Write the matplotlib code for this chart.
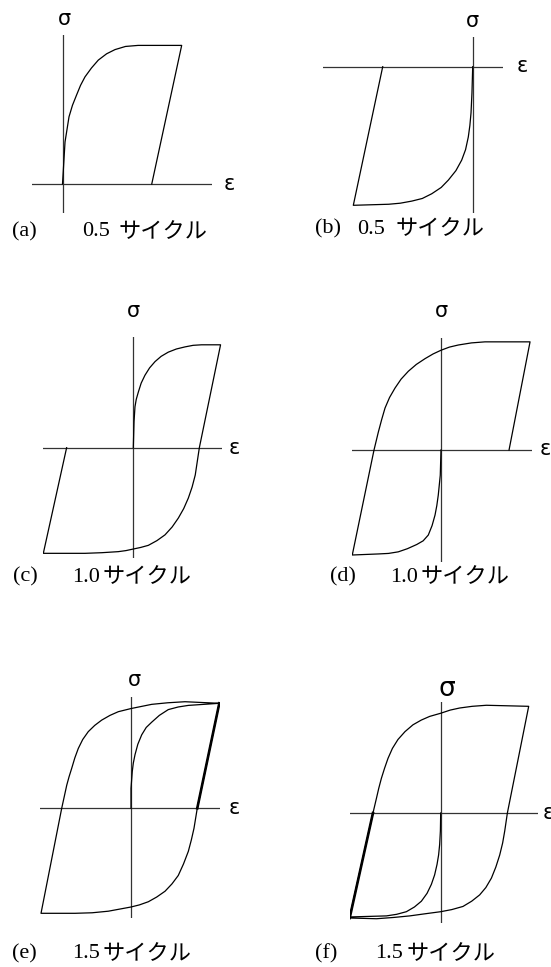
import matplotlib
matplotlib.use("Agg")
import matplotlib.pyplot as plt

W, H = 551, 967
S = 105.0  # pixels per unit of strain / stress

# ---- data (normalised strain eps, stress sig) ----
eps_a = [0, 0.024, 0.062, 0.095, 0.135, 0.172, 0.214, 0.276, 0.341, 0.42, 0.50, 0.60, 0.72,
         1.135, 0.85]
sig_a = [0, 0.40, 0.64, 0.75, 0.85, 0.94, 1.02, 1.105, 1.18, 1.24, 1.28, 1.31, 1.32,
         1.32, 0]

eps_b = [0, -0.007, -0.016, -0.027, -0.042, -0.068, -0.105, -0.16, -0.232, -0.30, -0.39,
         -0.48, -0.58, -0.69, -0.80, -1.137, -0.857]
sig_b = [0, -0.25, -0.44, -0.56, -0.67, -0.79, -0.89, -0.99, -1.08, -1.15, -1.21,
         -1.255, -1.28, -1.30, -1.31, -1.32, 0]

eps_c = [0, 0.007, 0.016, 0.028, 0.048, 0.075, 0.111, 0.155, 0.207, 0.265, 0.333, 0.41,
         0.492, 0.57, 0.65, 0.831,
         0.629, 0.59, 0.56, 0.524, 0.48, 0.429, 0.37, 0.302, 0.225, 0.143, 0.07, 0,
         -0.07, -0.143, -0.30, -0.46, -0.857,
         -0.635]
sig_c = [0, 0.25, 0.39, 0.46, 0.53, 0.615, 0.69, 0.76, 0.82, 0.87, 0.91, 0.94,
         0.96, 0.975, 0.98, 0.98,
         0, -0.26, -0.375, -0.48, -0.58, -0.67, -0.755, -0.83, -0.885, -0.93, -0.95, -0.965,
         -0.98, -0.99, -1.0, -1.006, -1.006,
         0]

eps_d = [0, -0.007, -0.026, -0.04, -0.057, -0.085, -0.121, -0.17, -0.231, -0.32, -0.407,
         -0.50, -0.597, -0.845,
         -0.638, -0.597, -0.565, -0.533, -0.49, -0.438, -0.38, -0.311, -0.235, -0.152,
         -0.075, 0, 0.08, 0.165, 0.29, 0.419, 0.848,
         0.648]
sig_d = [0, -0.24, -0.43, -0.53, -0.62, -0.72, -0.81, -0.865, -0.90, -0.94, -0.97,
         -0.985, -0.99, -1.0,
         0, 0.17, 0.29, 0.40, 0.50, 0.59, 0.675, 0.75, 0.815, 0.87,
         0.915, 0.95, 0.98, 1.0, 1.02, 1.03, 1.03,
         0]

eps_e = [0, 0, 0.012, 0.022, 0.038, 0.065, 0.102, 0.145, 0.197, 0.27, 0.355, 0.45,
         0.546, 0.841,
         0.631, 0.60, 0.575, 0.546, 0.50, 0.45, 0.39, 0.324, 0.245, 0.165, 0.08, 0,
         -0.216, -0.37, -0.533, -0.857,
         -0.66, -0.612, -0.59, -0.565, -0.535, -0.502, -0.46, -0.407, -0.345, -0.279,
         -0.20, -0.121, 0, 0.197, 0.35, 0.514, 0.841,
         0.631]
sig_e = [0, 0.19, 0.35, 0.43, 0.51, 0.61, 0.70, 0.77, 0.82, 0.885, 0.94, 0.965,
         0.98, 1.0,
         0, -0.19, -0.30, -0.41, -0.53, -0.64, -0.72, -0.79, -0.845, -0.89, -0.92, -0.94,
         -0.98, -0.995, -1.0, -1.0,
         0, 0.22, 0.30, 0.38, 0.48, 0.57, 0.655, 0.73, 0.79, 0.84,
         0.885, 0.92, 0.95, 0.99, 1.005, 1.015, 1.0,
         0]

eps_f = [0, -0.003, -0.01, -0.02, -0.035, -0.058, -0.089, -0.13, -0.184, -0.25, -0.327,
         -0.42, -0.517, -0.867,
         -0.645, -0.612, -0.59, -0.565, -0.535, -0.502, -0.46, -0.407, -0.34, -0.264,
         -0.185, -0.105, 0, 0.09, 0.181, 0.30, 0.435, 0.838,
         0.635, 0.61, 0.59, 0.562, 0.525, 0.483, 0.43, 0.371, 0.295, 0.212, 0.105, 0,
         -0.15, -0.295, -0.45, -0.612, -0.867,
         -0.645]
sig_f = [0, -0.17, -0.30, -0.40, -0.49, -0.59, -0.68, -0.765, -0.84, -0.895, -0.94,
         -0.965, -0.98, -0.99,
         0, 0.14, 0.235, 0.33, 0.425, 0.52, 0.615, 0.70, 0.775, 0.84,
         0.885, 0.92, 0.95, 0.98, 1.0, 1.016, 1.026, 1.016,
         0, -0.17, -0.285, -0.40, -0.515, -0.62, -0.71, -0.78, -0.84, -0.89, -0.92, -0.94,
         -0.96, -0.98, -0.995, -1.007, -1.0,
         0]

letters = ["(a)", "(b)", "(c)", "(d)", "(e)", "(f)"]
cycles = ["0.5", "0.5", "1.0", "1.0", "1.5", "1.5"]
cycle_word = "サイクル"

# ---- layout (pixels) ----
# origin, horizontal-axis x-range, vertical-axis y-range
panels = [
    dict(eps=eps_a, sig=sig_a, o=(62.5, 184), hx=(32, 212), vy=(35, 213),
         sg=(64, 19, 15), ep=(229, 184), lab=(12, 82, 119, 232), thick=False),
    dict(eps=eps_b, sig=sig_b, o=(472.7, 66.7), hx=(323, 503), vy=(37, 213),
         sg=(472, 21, 15), ep=(522, 66), lab=(315, 357, 396, 229), thick=False),
    dict(eps=eps_c, sig=sig_c, o=(133.3, 447.7), hx=(43, 222), vy=(337, 558),
         sg=(133, 311, 15), ep=(234, 448), lab=(13, 72, 103, 577), thick=False),
    dict(eps=eps_d, sig=sig_d, o=(441, 450), hx=(352, 532), vy=(338, 562),
         sg=(441, 311, 15), ep=(545, 449), lab=(330, 390, 421, 577), thick=False),
    dict(eps=eps_e, sig=sig_e, o=(131, 808.3), hx=(40, 220), vy=(697, 918),
         sg=(134, 680, 15), ep=(234, 808), lab=(12, 72, 103, 954), thick=True),
    dict(eps=eps_f, sig=sig_f, o=(440.7, 813), hx=(350, 538), vy=(702, 923),
         sg=(447, 689, 19), ep=(548, 813), lab=(315, 375, 407, 954), thick=True),
]

fig = plt.figure(figsize=(W / 100, H / 100), dpi=100)
fig.patch.set_facecolor("white")

serif = ["Liberation Serif", "DejaVu Serif"]
cjk = ["Noto Sans CJK JP", "DejaVu Sans"]

for i, p in enumerate(panels):
    ox, oy = p["o"]
    x0, x1 = p["hx"]
    y0, y1 = p["vy"]
    ax = fig.add_axes([x0 / W, 1 - y1 / H, (x1 - x0) / W, (y1 - y0) / H])
    ax.set_xlim((x0 - ox) / S, (x1 - ox) / S)
    ax.set_ylim((oy - y1) / S, (oy - y0) / S)
    ax.axis("off")
    ax.axhline(0, color="#333333", lw=0.9)
    ax.axvline(0, color="#333333", lw=0.9)
    ax.plot(p["eps"], p["sig"], color="black", lw=0.9, solid_joinstyle="round")
    if p["thick"]:
        # last unloading branch retraces the previous one
        ax.plot(p["eps"][-2:], p["sig"][-2:], color="black", lw=1.9)

    sx, sy, sfs = p["sg"]
    fig.text(sx / W, 1 - sy / H, "σ", fontsize=sfs, family="DejaVu Sans",
             ha="center", va="center")
    ex, ey = p["ep"]
    fig.text(ex / W, 1 - ey / H, "ε", fontsize=15, family="DejaVu Sans",
             ha="center", va="center")

    lx, nx, kx, ly = p["lab"]
    fig.text(lx / W, 1 - ly / H, letters[i], fontsize=16, family=serif,
             ha="left", va="center")
    fig.text(nx / W, 1 - ly / H, cycles[i], fontsize=16, family=serif,
             ha="left", va="center")
    fig.text(kx / W, 1 - ly / H, cycle_word, fontsize=16, family=cjk,
             ha="left", va="center")

fig.savefig("out.png", dpi=100)
